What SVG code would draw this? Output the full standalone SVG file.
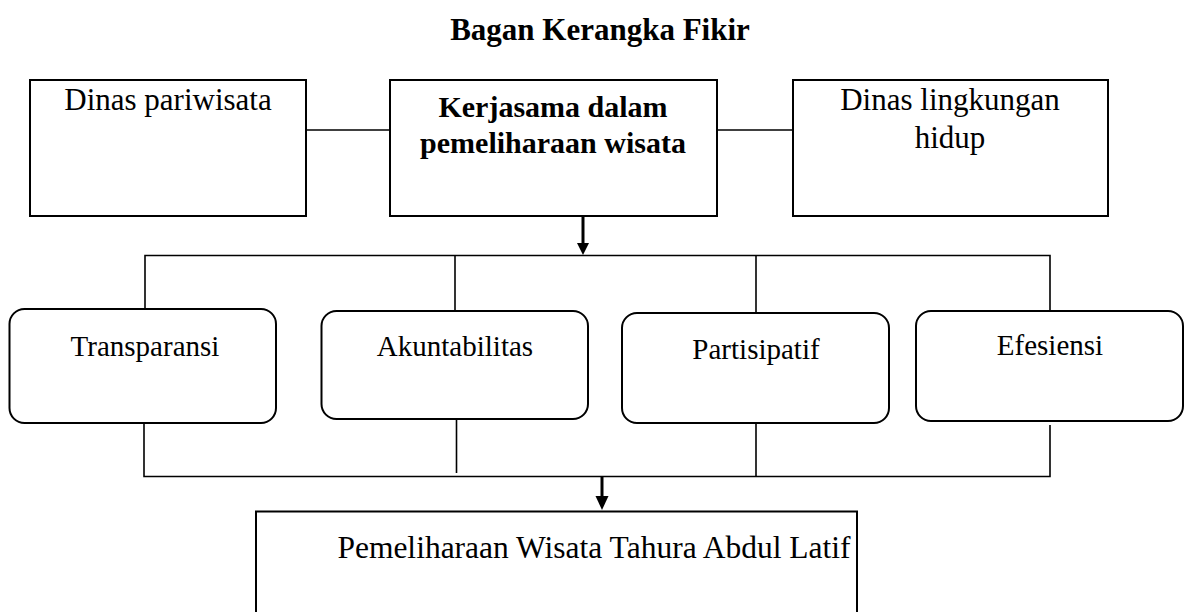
<svg xmlns="http://www.w3.org/2000/svg" width="1186" height="612" viewBox="0 0 1186 612">
<style>
.box{fill:#fff;stroke:#000;stroke-width:2}
.rbox{fill:#fff;stroke:#000;stroke-width:2}
.ln{fill:none;stroke:#000;stroke-width:1.6}
.arr{fill:none;stroke:#000;stroke-width:3}
.t{font-family:"Liberation Serif","Times New Roman",serif;fill:#000;text-anchor:middle}
.b{font-weight:bold}
</style>
<rect width="1186" height="612" fill="#fff"/>
<text class="t b" x="600" y="40" font-size="31">Bagan Kerangka Fikir</text>
<g id="connectors">
<line class="ln" x1="306" y1="130" x2="390" y2="130"/>
<line class="ln" x1="717" y1="130" x2="793" y2="130"/>
<polyline class="ln" points="145,309 145,255.5 1050,255.5 1050,311"/>
<line class="ln" x1="455" y1="255.5" x2="455" y2="311"/>
<line class="ln" x1="756" y1="255.5" x2="756" y2="313"/>
<polyline class="ln" points="144,423 144,476.5 1050,476.5 1050,425"/>
<line class="ln" x1="456.5" y1="419" x2="456.5" y2="473"/>
<line class="ln" x1="756" y1="423" x2="756" y2="476.5"/>
<path d="M583,217 L583,243" class="arr"/>
<path d="M577,243 L589,243 L583,255 Z" fill="#000"/>
<path d="M602,477 L602,496" class="arr"/>
<path d="M595.5,496 L608.5,496 L602,510 Z" fill="#000"/>
</g>
<g id="dinas-pariwisata">
<rect class="box" x="30" y="80" width="276" height="136"/>
<text class="t" x="168" y="110" font-size="31">Dinas pariwisata</text>
</g>
<g id="kerjasama">
<rect class="box" x="390" y="80" width="327" height="136"/>
<text class="t b" x="553" y="117" font-size="30">Kerjasama dalam</text>
<text class="t b" x="553" y="153" font-size="30">pemeliharaan wisata</text>
</g>
<g id="dinas-lingkungan">
<rect class="box" x="793" y="80" width="315" height="136"/>
<text class="t" x="950" y="110" font-size="31">Dinas lingkungan</text>
<text class="t" x="950" y="148" font-size="31">hidup</text>
</g>
<g id="transparansi">
<rect class="rbox" x="9.5" y="309" width="266.5" height="114" rx="15"/>
<text class="t" x="145" y="356" font-size="29">Transparansi</text>
</g>
<g id="akuntabilitas">
<rect class="rbox" x="321.5" y="311" width="266.5" height="108" rx="15"/>
<text class="t" x="455" y="356" font-size="29">Akuntabilitas</text>
</g>
<g id="partisipatif">
<rect class="rbox" x="622" y="313" width="267" height="110" rx="15"/>
<text class="t" x="756" y="359" font-size="29">Partisipatif</text>
</g>
<g id="efesiensi">
<rect class="rbox" x="916" y="311" width="267" height="110" rx="15"/>
<text class="t" x="1050" y="355" font-size="29">Efesiensi</text>
</g>
<g id="pemeliharaan">
<rect class="box" x="256" y="511.5" width="601" height="140"/>
<text class="t" x="594" y="558" font-size="31.5">Pemeliharaan Wisata Tahura Abdul Latif</text>
</g>
</svg>
